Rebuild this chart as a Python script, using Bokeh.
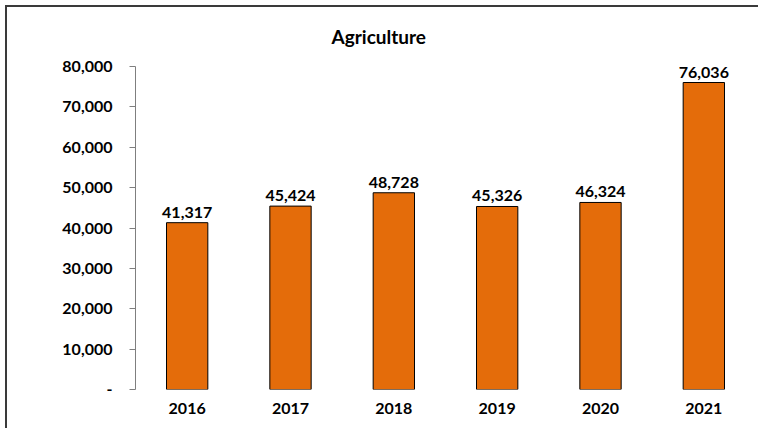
from bokeh.plotting import figure
from bokeh.models import FixedTicker, ColumnDataSource
from bokeh.core.properties import value
from bokeh.embed import file_html
from bokeh.resources import INLINE

# ---- data ----
years = ["2016", "2017", "2018", "2019", "2020", "2021"]
values = [41317, 45424, 48728, 45326, 46324, 76036]
value_labels = ["41,317", "45,424", "48,728", "45,326", "46,324", "76,036"]
y_ticks = [0, 10000, 20000, 30000, 40000, 50000, 60000, 70000, 80000]
y_tick_labels = ["-", "10,000", "20,000", "30,000", "40,000", "50,000",
                 "60,000", "70,000", "80,000"]
title_text = "Agriculture"

FONT = "Lato"
BAR = "#E46C0A"

src = ColumnDataSource(dict(x=years, top=values, lab=value_labels))

p = figure(x_range=years, y_range=(0, 80000), width=753, height=423,
           output_backend="svg", toolbar_location=None,
           min_border_left=128, min_border_right=5, min_border_top=59,
           min_border_bottom=41)
p.x_range.range_padding = 0

p.vbar(x="x", top="top", width=0.4, source=src, fill_color=BAR,
       line_color="#000000", line_width=1)
p.text(x="x", y="top", text="lab", source=src, text_align="center",
       text_baseline="bottom", y_offset=-5, text_font=value(FONT),
       text_font_style="bold", text_font_size="16px", text_color="#000000")

p.title.text = title_text
p.title.align = "left"
p.title.offset = 196
p.title.standoff = 34
p.title.vertical_align = "top"
p.title.text_font = FONT
p.title.text_font_size = "19px"
p.title.text_font_style = "bold"
p.title.text_color = "#000000"

p.grid.visible = False
p.outline_line_color = None
p.background_fill_color = "white"
p.border_fill_color = "white"

ya = p.yaxis[0]
ya.ticker = FixedTicker(ticks=y_ticks)
ya.major_label_overrides = {t: l for t, l in zip(y_ticks, y_tick_labels)}
ya.axis_line_color = "#7f7f7f"
ya.major_tick_line_color = "#7f7f7f"
ya.major_tick_in = 0
ya.major_tick_out = 6
ya.minor_tick_line_color = None
ya.major_label_standoff = 17
ya.major_label_text_font = FONT
ya.major_label_text_font_style = "bold"
ya.major_label_text_font_size = "16px"
ya.major_label_text_color = "#000000"

xa = p.xaxis[0]
xa.axis_line_color = None
xa.major_tick_line_color = None
xa.minor_tick_line_color = None
xa.major_tick_out = 0
xa.major_tick_in = 0
xa.major_label_standoff = 13
xa.major_label_text_font = FONT
xa.major_label_text_font_style = "bold"
xa.major_label_text_font_size = "16px"
xa.major_label_text_color = "#000000"

p.styles = {"margin-left": "5px", "margin-top": "5px",
            "border-top": "2px solid #3a3a3a", "border-left": "2px solid #3a3a3a"}

open("out.html", "w").write(file_html(p, INLINE))
